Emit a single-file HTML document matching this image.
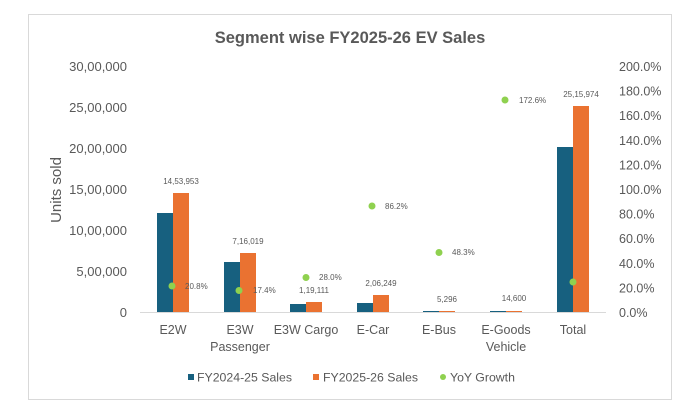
<!DOCTYPE html>
<html><head><style>
html,body{margin:0;padding:0;background:#fff;}
svg{display:block;font-family:"Liberation Sans",sans-serif;}
</style></head><body>
<svg width="696" height="411" viewBox="0 0 696 411">
<rect x="28.5" y="14.5" width="643" height="385" fill="#fff" stroke="#d9d9d9"/>
<text x="350" y="43" text-anchor="middle" font-size="16.5" font-weight="bold" fill="#595959">Segment wise FY2025-26 EV Sales</text>
<g font-size="13" fill="#595959" text-anchor="end">
<text x="127" y="71">30,00,000</text>
<text x="127" y="112">25,00,000</text>
<text x="127" y="153">20,00,000</text>
<text x="127" y="194">15,00,000</text>
<text x="127" y="235">10,00,000</text>
<text x="127" y="276">5,00,000</text>
<text x="127" y="317">0</text>
</g>
<g font-size="12.5" fill="#595959" text-anchor="start">
<text x="619" y="71">200.0%</text>
<text x="619" y="95.6">180.0%</text>
<text x="619" y="120.2">160.0%</text>
<text x="619" y="144.8">140.0%</text>
<text x="619" y="169.4">120.0%</text>
<text x="619" y="194">100.0%</text>
<text x="619" y="218.6">80.0%</text>
<text x="619" y="243.2">60.0%</text>
<text x="619" y="267.8">40.0%</text>
<text x="619" y="292.4">20.0%</text>
<text x="619" y="317">0.0%</text>
</g>
<text transform="translate(61,190) rotate(-90)" text-anchor="middle" font-size="15" fill="#595959">Units sold</text>
<line x1="140" y1="312.5" x2="606" y2="312.5" stroke="#d9d9d9"/>
<g fill="#17607f">
<rect x="157" y="213" width="16" height="99"/>
<rect x="224" y="262" width="16" height="50"/>
<rect x="290" y="304" width="16" height="8"/>
<rect x="357" y="303" width="16" height="9"/>
<rect x="423" y="311" width="16" height="1"/>
<rect x="490" y="311" width="16" height="1"/>
<rect x="557" y="147" width="16" height="165"/>
</g>
<g fill="#ea7231">
<rect x="173" y="193" width="16" height="119"/>
<rect x="240" y="253" width="16" height="59"/>
<rect x="306" y="302" width="16" height="10"/>
<rect x="373" y="295" width="16" height="17"/>
<rect x="439" y="311" width="16" height="1"/>
<rect x="506" y="311" width="16" height="1"/>
<rect x="573" y="106" width="16" height="206"/>
</g>
<g font-size="8" fill="#595959" text-anchor="middle">
<text x="181" y="184">14,53,953</text>
<text x="248" y="244">7,16,019</text>
<text x="314" y="293">1,19,111</text>
<text x="381" y="286">2,06,249</text>
<text x="447" y="302">5,296</text>
<text x="514" y="301">14,600</text>
<text x="581" y="97">25,15,974</text>
</g>
<g fill="#8fd14f">
<circle cx="172" cy="286" r="3.5"/>
<circle cx="239" cy="290.5" r="3.5"/>
<circle cx="306" cy="277.5" r="3.5"/>
<circle cx="372" cy="206" r="3.5"/>
<circle cx="439" cy="252.5" r="3.5"/>
<circle cx="505" cy="100" r="3.5"/>
<circle cx="573" cy="282" r="3.5"/>
</g>
<g font-size="8" fill="#595959">
<text x="185" y="289">20.8%</text>
<text x="253" y="293">17.4%</text>
<text x="319" y="280">28.0%</text>
<text x="385" y="209">86.2%</text>
<text x="452" y="255">48.3%</text>
<text x="519" y="103">172.6%</text>
</g>
<g font-size="12.5" fill="#595959" text-anchor="middle">
<text x="173" y="334">E2W</text>
<text x="240" y="334">E3W</text>
<text x="240" y="351">Passenger</text>
<text x="306" y="334">E3W Cargo</text>
<text x="373" y="334">E-Car</text>
<text x="439" y="334">E-Bus</text>
<text x="506" y="334">E-Goods</text>
<text x="506" y="351">Vehicle</text>
<text x="573" y="334">Total</text>
</g>
<g font-size="12.3" fill="#595959">
<rect x="188" y="374" width="6" height="6" fill="#17607f"/>
<text x="197" y="381.5">FY2024-25 Sales</text>
<rect x="313" y="374" width="6" height="6" fill="#ea7231"/>
<text x="323" y="381.5">FY2025-26 Sales</text>
<circle cx="443" cy="377" r="3" fill="#8fd14f"/>
<text x="450" y="381.5">YoY Growth</text>
</g>
</svg>
</body></html>
